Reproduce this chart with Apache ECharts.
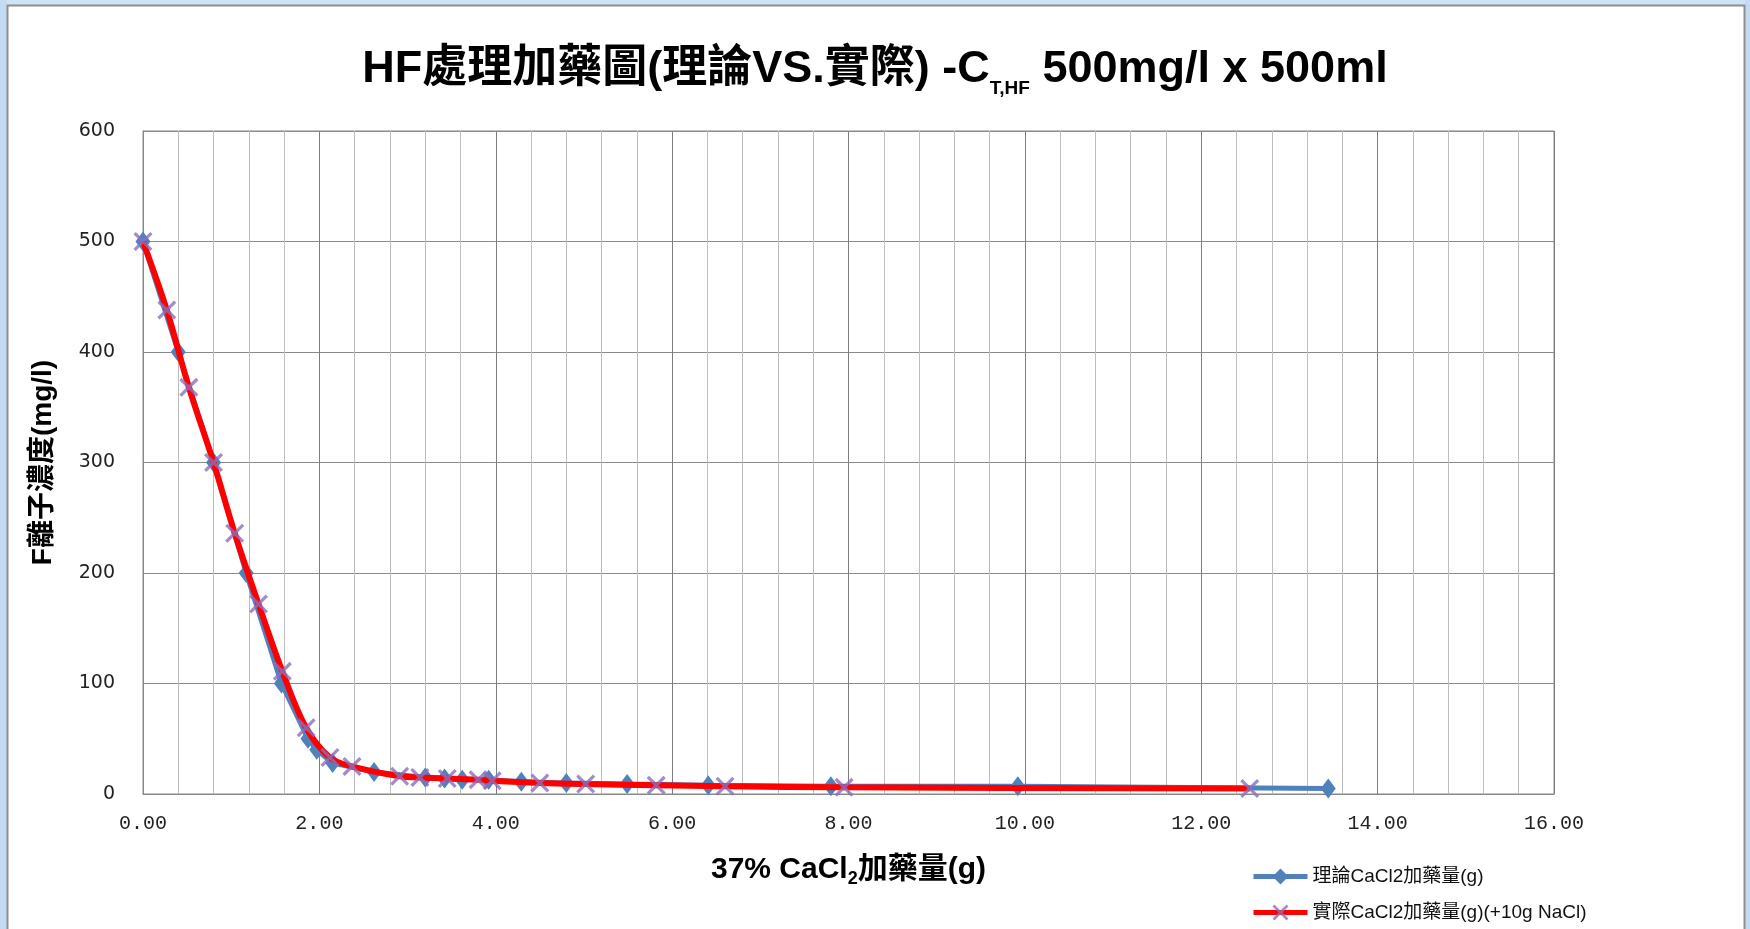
<!DOCTYPE html>
<html><head><meta charset="utf-8">
<script src="https://cdn.jsdelivr.net/npm/echarts@6/dist/echarts.min.js"></script>
<style>html,body{margin:0;padding:0;background:#fff;}#c{width:1750px;height:929px;}</style>
</head><body><div id="c"></div>
<script>
// Theoretical CaCl2 dosage (x in g, y F- mg/l)
var theoX = [0.00, 0.40, 0.80, 1.17, 1.57, 1.87, 1.97, 2.15, 2.62, 3.20, 3.42, 3.62, 3.92, 4.29, 4.80, 5.49, 6.41, 7.80, 9.92, 13.44];
var theoY = [500, 400, 300, 200, 100, 50, 40, 28, 20, 15, 14, 13, 13, 11, 10, 9, 8, 7, 7, 5];
// Actual CaCl2 dosage (+10g NaCl)
var actX = [0.00, 0.27, 0.52, 0.80, 1.04, 1.31, 1.58, 1.85, 2.12, 2.37, 2.91, 3.14, 3.45, 3.80, 3.96, 4.50, 5.02, 5.82, 6.60, 7.95, 12.55];
var actY = [500, 438, 368, 300, 236, 172, 111, 60, 33, 25, 16, 15, 14, 13, 12, 10, 9, 8, 7, 6, 5];
var seriesNames = ['理論CaCl2加藥量(g)', '實際CaCl2加藥量(g)(+10g NaCl)'];
var xTicks = [0, 2, 4, 6, 8, 10, 12, 14, 16];
var yTicks = [0, 100, 200, 300, 400, 500, 600];

function pairs(xs, ys) { return xs.map(function (x, i) { return [x, ys[i]]; }); }

var CJK = "'Noto Sans CJK TC'";
var SANS = "'Liberation Sans', " + CJK;
var xMark = 'path://M0,1.2L1.2,0L10,8.8L8.8,10Z M8.8,0L10,1.2L1.2,10L0,8.8Z';

var chart = echarts.init(document.getElementById('c'), null, {renderer: 'canvas'});
chart.setOption({
  backgroundColor: '#ffffff',
  animation: false,
  graphic: [
    {type: 'rect', shape: {x: 0, y: 0, width: 1750, height: 6}, style: {fill: '#cfe3f6'}, silent: true},
    {type: 'rect', shape: {x: 0, y: 0, width: 7, height: 929}, style: {fill: '#c3dcf4'}, silent: true},
    {type: 'rect', shape: {x: 1745, y: 0, width: 5, height: 929}, style: {fill: '#c3dcf4'}, silent: true},
    {type: 'rect', shape: {x: 7.5, y: 5.5, width: 1737, height: 940}, style: {fill: 'none', stroke: '#8e8e8e', lineWidth: 2}, silent: true}
  ],
  title: {
    left: 'center', top: 37,
    text: '{a|HF處理加藥圖(理論VS.實際) -C}{s|T,HF}{a| 500mg/l x 500ml}',
    textStyle: {
      rich: {
        a: {fontFamily: SANS, fontWeight: 'bold', fontSize: 45, color: '#000', lineHeight: 56, verticalAlign: 'middle'},
        s: {fontFamily: SANS, fontWeight: 'bold', fontSize: 19, color: '#000', lineHeight: 56, verticalAlign: 'bottom'}
      }
    }
  },
  grid: {left: 143, right: 196, top: 131, bottom: 135, show: true, borderColor: '#888', borderWidth: 1, backgroundColor: 'transparent', containLabel: false},
  legend: {
    orient: 'vertical', left: 1246, top: 862, itemGap: 17, itemWidth: 54, itemHeight: 20,
    data: seriesNames,
    lineStyle: {width: 5},
    textStyle: {fontFamily: SANS, fontSize: 19, color: '#111'}
  },
  xAxis: {
    type: 'value', min: xTicks[0], max: xTicks[xTicks.length - 1], interval: 2,
    axisLine: {show: true, lineStyle: {color: '#888'}},
    axisTick: {show: false},
    axisLabel: {margin: 20, fontFamily: "'Liberation Mono', 'DejaVu Sans Mono', monospace", fontSize: 20, color: '#222',
      formatter: function (v) { return v.toFixed(2); }},
    splitLine: {show: true, lineStyle: {color: '#7e7e7e', width: 1}},
    minorTick: {show: false, splitNumber: 5},
    minorSplitLine: {show: true, lineStyle: {color: '#bdbdbd', width: 1}},
    name: '{a|37% CaCl}{s|2}{a|加藥量(g)}',
    nameLocation: 'middle', nameGap: 58,
    nameTextStyle: {
      rich: {
        a: {fontFamily: SANS, fontWeight: 'bold', fontSize: 30, color: '#000', lineHeight: 36},
        s: {fontFamily: SANS, fontWeight: 'bold', fontSize: 18, color: '#000', lineHeight: 36, verticalAlign: 'bottom'}
      }
    }
  },
  yAxis: {
    type: 'value', min: yTicks[0], max: yTicks[yTicks.length - 1], interval: 100,
    axisLine: {show: true, lineStyle: {color: '#888'}},
    axisTick: {show: false},
    axisLabel: {margin: 28, fontFamily: "'DejaVu Sans'", fontSize: 19, color: '#222'},
    splitLine: {show: true, lineStyle: {color: '#8a8a8a', width: 1}},
    name: 'F離子濃度(mg/l)',
    nameLocation: 'middle', nameGap: 86, nameRotate: 90,
    nameTextStyle: {fontFamily: SANS, fontWeight: 'bold', fontSize: 28, color: '#000'}
  },
  series: [
    {
      name: seriesNames[0], type: 'line', data: pairs(theoX, theoY),
      smooth: false, symbol: 'diamond', symbolSize: [15, 20], showSymbol: true,
      lineStyle: {color: '#4f81bd', width: 5},
      itemStyle: {color: '#4f81bd'}, z: 2
    },
    {
      name: seriesNames[1], type: 'line', data: pairs(actX, actY),
      smooth: 0.35, symbol: xMark, symbolSize: 19, showSymbol: true,
      lineStyle: {color: '#ff0000', width: 6},
      itemStyle: {color: 'rgba(140,110,190,0.8)'}, z: 3
    }
  ]
});
</script>
</body></html>
